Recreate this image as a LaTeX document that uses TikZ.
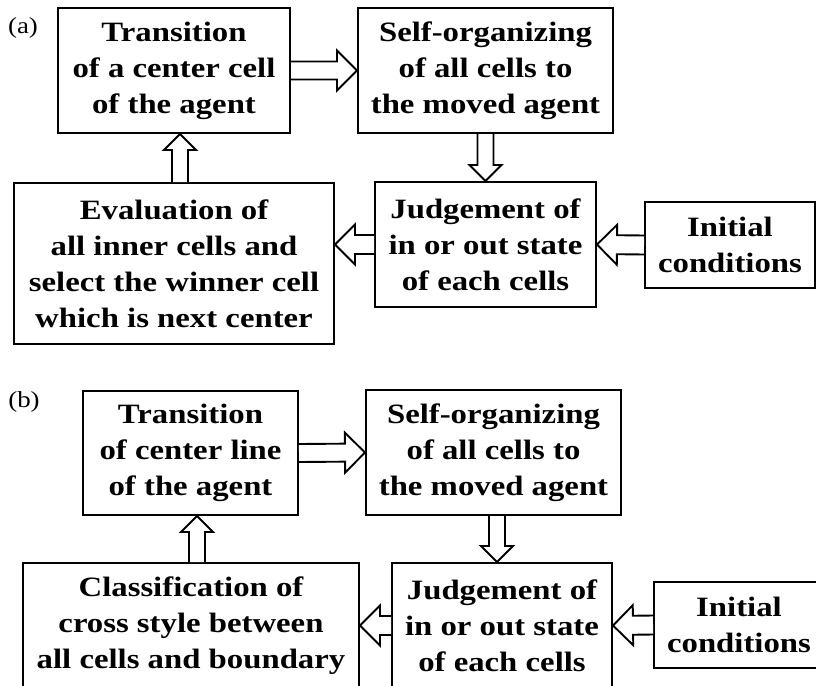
\documentclass[tikz,border=0pt]{standalone}
\usepackage{fontspec}
\setmainfont{Liberation Serif}[FakeStretch=1.17]
\usetikzlibrary{calc}
\tikzset{
  stage-box/.style={
    draw=black,
    line width=2pt,
    fill=white,
    align=center,
    inner sep=0pt,
    font=\fontsize{28}{36}\selectfont\bfseries
  },
  hollow-arrow/.style={
    draw=black,
    fill=white,
    line width=1.9pt,
    line join=miter
  },
  panel-label/.style={inner sep=0pt, font=\fontsize{23}{26}\selectfont}
}
% open block arrow: start, tip, half shaft width, half head width
\newcommand{\hollowarrow}[4]{
  \draw[hollow-arrow] let \p1=(#1), \p2=(#2),
      \n1={atan2(\y2-\y1,\x2-\x1)}, \n2={veclen(\x2-\x1,\y2-\y1)} in
    [shift={(\p1)}, rotate=\n1]
    (0,#3) -- (\n2-#4,#3) -- (\n2-#4,#4) -- (\n2,0)
    -- (\n2-#4,-#4) -- (\n2-#4,-#3) -- (0,-#3);
}

\begin{document}
\begin{tikzpicture}[x=1pt, y=-1pt]
  \useasboundingbox (0,0) rectangle (816,685);
  \clip (0,0) rectangle (816,685);

  % (a) loop over the center cell
  \node[panel-label] (lab-a) at (23,28) {(a)};
  \node[stage-box, minimum width=232pt, minimum height=125pt] (a-move) at (174,70.5)
    {Transition\\of a center cell\\of the agent};
  \node[stage-box, minimum width=255pt, minimum height=125pt] (a-self) at (485.5,70.5)
    {Self-organizing\\of all cells to\\the moved agent};
  \node[stage-box, minimum width=221pt, minimum height=125pt] (a-judge) at (485.5,244.5)
    {Judgement of\\in or out state\\of each cells};
  \node[stage-box, minimum width=170pt, minimum height=86pt] (a-init) at (730,245)
    {Initial\\conditions};
  \node[stage-box, minimum width=320pt, minimum height=161pt] (a-eval) at (174,263.5)
    {Evaluation of\\all inner cells and\\select the winner cell\\which is next center};

  \hollowarrow{a-move.east}{a-self.west}{9}{20}
  \hollowarrow{a-self.south}{a-judge.north}{8}{16}
  \hollowarrow{a-init.west}{a-judge.east}{9.5}{20}
  \hollowarrow{a-judge.west}{a-eval.east |- a-judge.west}{9.5}{20}
  \hollowarrow{a-eval.north -| 180,0}{a-move.south -| 180,0}{8}{16}

  % (b) loop over the center line
  \node[panel-label] (lab-b) at (24,402) {(b)};
  \node[stage-box, minimum width=215pt, minimum height=124pt] (b-move) at (190.5,453)
    {Transition\\of center line\\of the agent};
  \node[stage-box, minimum width=255pt, minimum height=125pt] (b-self) at (493.5,452.5)
    {Self-organizing\\of all cells to\\the moved agent};
  \node[stage-box, minimum width=220pt, minimum height=125pt] (b-judge) at (502,625.5)
    {Judgement of\\in or out state\\of each cells};
  \node[stage-box, minimum width=170pt, minimum height=86pt] (b-init) at (739,625)
    {Initial\\conditions};
  \node[stage-box, minimum width=336pt, minimum height=125pt] (b-class) at (191,625.5)
    {Classification of\\cross style between\\all cells and boundary};

  \hollowarrow{b-move.east}{b-self.west}{9}{20}
  \hollowarrow{b-self.south -| 497,0}{b-judge.north -| 497,0}{8}{16}
  \hollowarrow{b-init.west}{b-judge.east}{9.5}{20}
  \hollowarrow{b-judge.west}{b-class.east |- b-judge.west}{9.5}{20}
  \hollowarrow{b-class.north -| 197,0}{b-move.south -| 197,0}{8}{16}
\end{tikzpicture}
\end{document}
